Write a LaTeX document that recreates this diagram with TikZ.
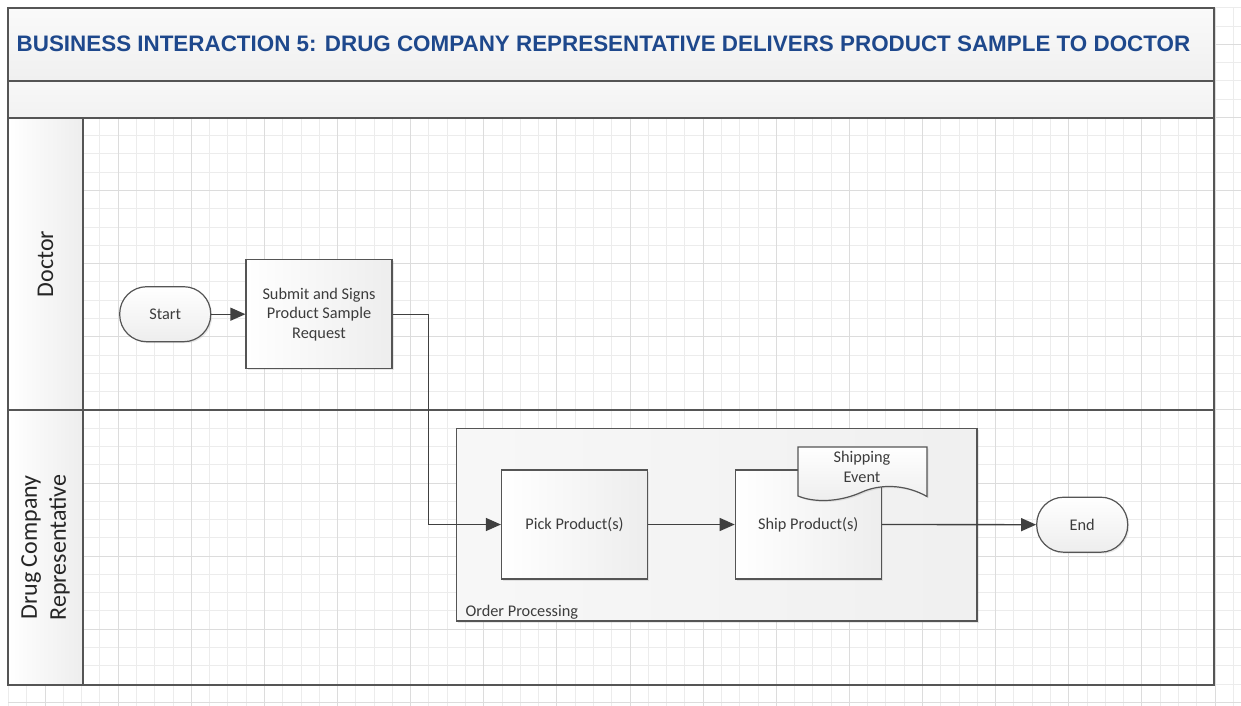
\documentclass[tikz,border=0pt]{standalone}
\usepackage{fontspec}
\setmainfont{Carlito}
\newfontfamily\titlefont{Liberation Sans}
\usetikzlibrary{shadows,arrows.meta}
\definecolor{titleblue}{RGB}{30,72,140}
\definecolor{linegray}{RGB}{85,85,85}
\definecolor{conngray}{RGB}{64,64,64}
\definecolor{gridminor}{RGB}{236,236,236}
\definecolor{gridmajor}{RGB}{220,220,220}
\definecolor{txtgray}{RGB}{60,60,60}
\begin{document}
\begin{tikzpicture}[x=1pt,y=-1pt,
  bodyfont/.style={font=\fontsize{16.3}{19.5}\selectfont},
  minorgrid/.style={draw=gridminor,line width=1pt},
  majorgrid/.style={draw=gridmajor,line width=1pt},
  frameline/.style={draw=linegray,line width=1.3pt},
  shade/.style={drop shadow={opacity=0.18,shadow xshift=1.5pt,shadow yshift=-1.5pt}},
  procbox/.style={draw=linegray,line width=1.2pt,left color=white,right color=black!7,
    minimum width=146pt,minimum height=109pt,align=center,bodyfont,text=txtgray,shade},
  term/.style={draw=linegray,line width=1.2pt,top color=white,bottom color=black!7,
    rounded corners=27pt,minimum width=91pt,minimum height=55pt,bodyfont,text=txtgray,shade},
  conn/.style={draw=conngray,line width=1.3pt},
  arr/.style={conn,-{Triangle[length=15pt,width=13pt]}},
  lanelabel/.style={rotate=90,align=center,font=\fontsize{24}{29}\selectfont,text=black!85}
]
\useasboundingbox (0,0) rectangle (1241,706);
\fill[white] (0,0) rectangle (1241,706);
% background grid
\begin{scope}
\clip (8,8) rectangle (1241,706);
\foreach \k in {-2,...,65} \draw[minorgrid] ({45.1+18.28*\k},8) -- ({45.1+18.28*\k},706);
\foreach \k in {-2,...,36} \draw[minorgrid] (8,{44.3+18.28*\k}) -- (1241,{44.3+18.28*\k});
\foreach \k in {0,...,16} \draw[majorgrid] ({45.1+73.12*\k},8) -- ({45.1+73.12*\k},706);
\foreach \k in {0,...,9} \draw[majorgrid] (8,{44.3+73.12*\k}) -- (1241,{44.3+73.12*\k});
\end{scope}
% header bands
\path[frameline,top color=black!2,bottom color=black!6] (8,8) rectangle (1214,81);
\path[frameline,top color=black!3,bottom color=black!5] (8,81) rectangle (1214,118);
\node[font=\titlefont\bfseries\fontsize{22.4}{26}\selectfont,text=titleblue] (title) at (603.5,44)
  {BUSINESS INTERACTION 5: DRUG COMPANY REPRESENTATIVE DELIVERS PRODUCT SAMPLE TO DOCTOR};
% lane label columns
\path[frameline,left color=white,right color=black!7] (8,118) rectangle (83,410);
\path[frameline,left color=white,right color=black!7] (8,410) rectangle (83,685);
\node[lanelabel] (doctor) at (45.5,264) {Doctor};
\node[lanelabel] (rep) at (45.5,547.5) {Drug Company\\Representative};
% lanes
\draw[frameline] (83,118) rectangle (1214,410);
\draw[frameline] (83,410) rectangle (1214,685);
% order processing container
\path[draw=linegray,line width=1.2pt,left color=black!3,right color=black!6,shade] (456.7,428.5) rectangle (977,621);
\node[bodyfont,text=txtgray,anchor=base west] (oplabel) at (462,616.5) {Order Processing};
% nodes
\node[term] (start) at (165.2,314.2) {Start};
\node[procbox] (submit) at (319,314.2) {Submit and Signs\\Product Sample\\Request};
\node[procbox] (pick) at (574.5,524.5) {Pick Product(s)};
\node[procbox] (ship) at (808.3,524.5) {Ship Product(s)};
\node[term] (end) at (1082.2,524.7) {End};
% shipping event document
\path[draw=linegray,line width=1.2pt,top color=white,bottom color=black!7,shade]
  (798,447) -- (927,447) -- (927,496.5)
  .. controls (905,484) and (880,484) .. (862,492)
  .. controls (840,502) and (815,503) .. (798,496) -- cycle;
\node[bodyfont,text=txtgray,align=center] (shipev) at (862,467) {Shipping\\Event};
% connectors
\draw[arr] (start) -- (submit);
\draw[arr] (submit.east) -- ++(36,0) |- (pick.west);
\draw[arr] (pick) -- (ship);
\draw[arr] (ship) -- (end);
\end{tikzpicture}
\end{document}
